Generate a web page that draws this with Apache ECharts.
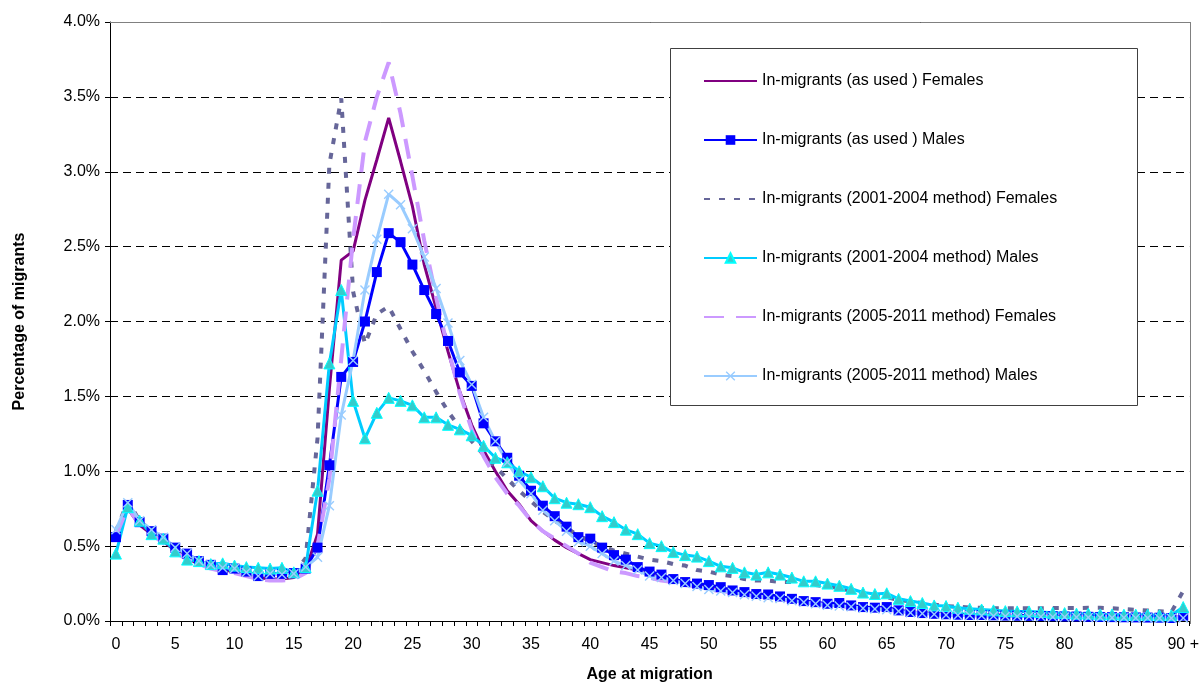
<!DOCTYPE html>
<html>
<head>
<meta charset="utf-8">
<script src="https://cdn.jsdelivr.net/npm/echarts@6/dist/echarts.min.js"></script>
<style>
  html, body { margin: 0; padding: 0; background: #fff; }
  #chart { width: 1202px; height: 688px; }
</style>
</head>
<body>
<div id="chart"></div>
<script>
// Age categories 0 .. 89 and "90 +"
const ages = [];
for (let a = 0; a < 90; a++) ages.push(String(a));
ages.push('90 +');

// Percentage of migrants at each age
const asUsedFemales = [
  0.57, 0.75, 0.64, 0.58, 0.53, 0.47, 0.42, 0.38, 0.36, 0.34,
  0.33, 0.31, 0.29, 0.28, 0.28, 0.29, 0.34, 0.58, 1.55, 2.41,
  2.47, 2.81, 3.08, 3.36, 3.07, 2.77, 2.38, 2.09, 1.80, 1.53,
  1.31, 1.14, 1.00, 0.87, 0.78, 0.67, 0.60, 0.54, 0.49, 0.45,
  0.41, 0.39, 0.37, 0.355, 0.34, 0.31, 0.29, 0.27, 0.26, 0.24,
  0.22, 0.21, 0.20, 0.185, 0.175, 0.165, 0.155, 0.145, 0.13, 0.12,
  0.11, 0.105, 0.10, 0.09, 0.085, 0.08, 0.07, 0.06, 0.055, 0.05,
  0.045, 0.045, 0.042, 0.04, 0.04, 0.038, 0.036, 0.035, 0.034, 0.033,
  0.032, 0.031, 0.03, 0.029, 0.028, 0.027, 0.026, 0.026, 0.025, 0.025,
  0.03
];
const asUsedMales = [
  0.56, 0.775, 0.66, 0.60, 0.55, 0.49, 0.45, 0.40, 0.375, 0.34,
  0.35, 0.33, 0.30, 0.315, 0.315, 0.32, 0.35, 0.49, 1.04, 1.63,
  1.73, 2.00, 2.33, 2.59, 2.53, 2.38, 2.21, 2.05, 1.87, 1.66,
  1.57, 1.32, 1.20, 1.09, 0.97, 0.87, 0.77, 0.70, 0.63, 0.56,
  0.55, 0.49, 0.44, 0.41, 0.36, 0.33, 0.31, 0.28, 0.26, 0.25,
  0.24, 0.226, 0.204, 0.193, 0.18, 0.177, 0.164, 0.148, 0.133, 0.126,
  0.115, 0.12, 0.104, 0.093, 0.089, 0.093, 0.071, 0.06, 0.053, 0.048,
  0.045, 0.042, 0.04, 0.04, 0.038, 0.036, 0.035, 0.034, 0.033, 0.032,
  0.03, 0.03, 0.028, 0.027, 0.026, 0.025, 0.024, 0.023, 0.022, 0.02,
  0.035
];
const method0104Females = [
  0.60, 0.80, 0.67, 0.60, 0.55, 0.48, 0.43, 0.39, 0.36, 0.34,
  0.33, 0.32, 0.31, 0.30, 0.30, 0.31, 0.42, 1.22, 3.05, 3.49,
  2.20, 1.85, 2.05, 2.10, 1.95, 1.80, 1.67, 1.53, 1.40, 1.29,
  1.20, 1.11, 1.03, 0.95, 0.87, 0.80, 0.73, 0.67, 0.62, 0.57,
  0.53, 0.50, 0.47, 0.45, 0.43, 0.41, 0.40, 0.38, 0.37, 0.34,
  0.33, 0.31, 0.30, 0.28, 0.27, 0.27, 0.26, 0.26, 0.25, 0.24,
  0.23, 0.22, 0.20, 0.19, 0.17, 0.16, 0.14, 0.13, 0.12, 0.11,
  0.10, 0.095, 0.09, 0.088, 0.086, 0.085, 0.085, 0.085, 0.085, 0.086,
  0.086, 0.086, 0.088, 0.088, 0.085, 0.08, 0.075, 0.07, 0.065, 0.06,
  0.20
];
const method0104Males = [
  0.45, 0.76, 0.67, 0.58, 0.55, 0.465, 0.41, 0.40, 0.38, 0.385,
  0.37, 0.36, 0.355, 0.35, 0.355, 0.325, 0.36, 0.87, 1.72, 2.21,
  1.47, 1.22, 1.39, 1.49, 1.47, 1.44, 1.36, 1.36, 1.31, 1.28,
  1.24, 1.17, 1.09, 1.06, 1.00, 0.96, 0.90, 0.82, 0.79, 0.78,
  0.76, 0.70, 0.66, 0.61, 0.58, 0.52, 0.50, 0.46, 0.44, 0.43,
  0.40, 0.365, 0.355, 0.325, 0.31, 0.325, 0.31, 0.29, 0.265, 0.265,
  0.25, 0.235, 0.215, 0.19, 0.18, 0.185, 0.148, 0.133, 0.12, 0.104,
  0.10, 0.089, 0.082, 0.077, 0.071, 0.066, 0.064, 0.064, 0.06, 0.055,
  0.053, 0.049, 0.049, 0.044, 0.044, 0.042, 0.042, 0.042, 0.038, 0.038,
  0.093
];
const method0511Females = [
  0.57, 0.76, 0.64, 0.58, 0.52, 0.46, 0.41, 0.38, 0.35, 0.33,
  0.32, 0.30, 0.28, 0.27, 0.27, 0.28, 0.32, 0.50, 0.95, 1.75,
  2.55, 3.20, 3.50, 3.73, 3.39, 2.97, 2.54, 2.16, 1.82, 1.52,
  1.28, 1.10, 0.96, 0.85, 0.77, 0.67, 0.60, 0.55, 0.50, 0.45,
  0.39, 0.36, 0.33, 0.32, 0.30, 0.29, 0.27, 0.26, 0.24, 0.23,
  0.21, 0.20, 0.19, 0.175, 0.165, 0.155, 0.145, 0.135, 0.125, 0.115,
  0.105, 0.10, 0.09, 0.085, 0.08, 0.075, 0.065, 0.055, 0.05, 0.045,
  0.04, 0.039, 0.038, 0.037, 0.036, 0.035, 0.034, 0.033, 0.032, 0.031,
  0.03, 0.029, 0.028, 0.027, 0.026, 0.025, 0.024, 0.023, 0.022, 0.021,
  0.03
];
const method0511Males = [
  0.61, 0.79, 0.67, 0.61, 0.56, 0.49, 0.45, 0.40, 0.375, 0.355,
  0.35, 0.325, 0.30, 0.315, 0.31, 0.315, 0.36, 0.425, 0.77, 1.375,
  1.74, 2.21, 2.55, 2.85, 2.78, 2.62, 2.43, 2.22, 1.99, 1.74,
  1.58, 1.36, 1.20, 1.06, 0.94, 0.85, 0.74, 0.67, 0.60, 0.53,
  0.50, 0.45, 0.40, 0.37, 0.34, 0.30, 0.29, 0.27, 0.25, 0.23,
  0.21, 0.20, 0.19, 0.175, 0.165, 0.155, 0.15, 0.135, 0.125, 0.115,
  0.105, 0.10, 0.095, 0.085, 0.08, 0.075, 0.065, 0.055, 0.05, 0.045,
  0.04, 0.038, 0.036, 0.035, 0.033, 0.032, 0.03, 0.03, 0.028, 0.027,
  0.026, 0.025, 0.024, 0.023, 0.022, 0.021, 0.02, 0.02, 0.019, 0.018,
  0.02
];

const seriesNames = [
  'In-migrants (as used ) Females',
  'In-migrants (as used ) Males',
  'In-migrants (2001-2004 method) Females',
  'In-migrants (2001-2004 method) Males',
  'In-migrants (2005-2011 method) Females',
  'In-migrants (2005-2011 method) Males'
];

const FONT = "'Liberation Sans', Arial, Helvetica, sans-serif";
const CROSS = 'path://M1,0L5,4L9,0L10,1L6,5L10,9L9,10L5,6L1,10L0,9L4,5L0,1Z';

const chart = echarts.init(document.getElementById('chart'), null, { renderer: 'canvas' });

// Legend entries for line-only series keep the line sample but hide the marker
const lineOnly = { itemStyle: { opacity: 0 } };

chart.setOption({
  animation: false,
  backgroundColor: '#fff',
  textStyle: { fontFamily: FONT },
  grid: { left: 110, right: 12, top: 22, bottom: 64, containLabel: false },
  xAxis: {
    type: 'category',
    data: ages,
    boundaryGap: true,
    name: 'Age at migration',
    nameLocation: 'middle',
    nameGap: 46,
    nameTextStyle: { fontFamily: FONT, fontSize: 16, fontWeight: 'bold', color: '#000' },
    axisLine: { lineStyle: { color: '#000', width: 1 } },
    axisTick: { show: true, interval: 0, length: 5, lineStyle: { color: '#000' } },
    axisLabel: { interval: 4, margin: 16, fontFamily: FONT, fontSize: 16, color: '#000' },
    splitLine: { show: false }
  },
  yAxis: {
    type: 'value',
    min: 0,
    max: 4,
    interval: 0.5,
    name: 'Percentage of migrants',
    nameLocation: 'middle',
    nameGap: 82,
    nameTextStyle: { fontFamily: FONT, fontSize: 16, fontWeight: 'bold', color: '#000' },
    axisLine: { show: true, lineStyle: { color: '#000', width: 1 } },
    axisTick: { show: true, length: 5, lineStyle: { color: '#000' } },
    axisLabel: {
      margin: 10, fontFamily: FONT, fontSize: 16, color: '#000',
      formatter: v => v.toFixed(1) + '%'
    },
    splitLine: { show: true, lineStyle: { color: '#000', width: 1, type: [8, 5] } }
  },
  legend: {
    orient: 'vertical',
    left: 703,
    top: 73,
    padding: 0,
    itemWidth: 53,
    itemHeight: 12,
    itemGap: 43,
    data: [
      Object.assign({ name: seriesNames[0] }, lineOnly),
      { name: seriesNames[1] },
      Object.assign({ name: seriesNames[2] }, lineOnly),
      { name: seriesNames[3] },
      Object.assign({ name: seriesNames[4] }, lineOnly),
      { name: seriesNames[5] }
    ],
    textStyle: { fontFamily: FONT, fontSize: 16, color: '#000' },
    z: 6
  },
  graphic: [
    // legend frame
    { type: 'rect', z: 5, shape: { x: 670.5, y: 48.5, width: 467, height: 357 },
      style: { fill: '#fff', stroke: '#404040', lineWidth: 1 } },
    // plot area frame (top and right)
    { type: 'line', z: 1, shape: { x1: 110, y1: 22.5, x2: 1190.5, y2: 22.5 },
      style: { stroke: '#808080', lineWidth: 1 } },
    { type: 'line', z: 1, shape: { x1: 1190.5, y1: 22, x2: 1190.5, y2: 624 },
      style: { stroke: '#808080', lineWidth: 1 } }
  ],
  series: [
    {
      name: seriesNames[0], type: 'line', data: asUsedFemales,
      symbol: 'none', color: '#800080',
      lineStyle: { color: '#800080', width: 3 }
    },
    {
      name: seriesNames[1], type: 'line', data: asUsedMales,
      symbol: 'rect', symbolSize: 10, showAllSymbol: true, color: '#0000FF',
      itemStyle: { color: '#0000FF' },
      lineStyle: { color: '#0000FF', width: 3 }
    },
    {
      name: seriesNames[2], type: 'line', data: method0104Females,
      symbol: 'none', color: '#666699',
      lineStyle: { color: '#666699', width: 4, type: [6, 9] }
    },
    {
      name: seriesNames[3], type: 'line', data: method0104Males,
      symbol: 'triangle', symbolSize: 11, showAllSymbol: true, color: '#00CCFF',
      itemStyle: { color: '#33CCCC', borderColor: '#00FFFF', borderWidth: 1 },
      lineStyle: { color: '#00CCFF', width: 3 }
    },
    {
      name: seriesNames[4], type: 'line', data: method0511Females,
      symbol: 'none', color: '#CC99FF',
      lineStyle: { color: '#CC99FF', width: 4, type: [20, 12] }
    },
    {
      name: seriesNames[5], type: 'line', data: method0511Males,
      symbol: CROSS, symbolSize: 10, showAllSymbol: true, color: '#99CCFF',
      itemStyle: { color: '#99CCFF' },
      lineStyle: { color: '#99CCFF', width: 3 }
    }
  ]
});
</script>
</body>
</html>
